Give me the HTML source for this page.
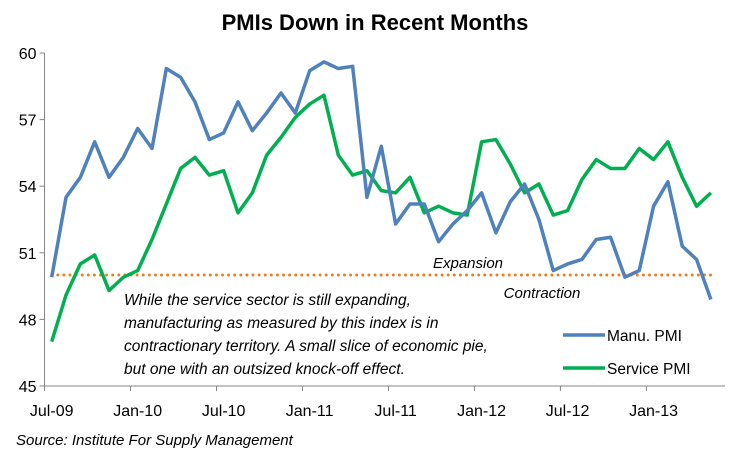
<!DOCTYPE html>
<html><head><meta charset="utf-8"><style>
body{margin:0;background:#fff;}
svg{display:block;font-family:"Liberation Sans",Calibri,sans-serif;}
</style></head><body>
<svg id="c" width="750" height="452" viewBox="0 0 750 452">
<text x="375" y="30" text-anchor="middle" font-size="22" font-weight="bold" fill="#000">PMIs Down in Recent Months</text>
<g id="axes"></g>
<g id="series"></g>
<text x="468" y="268" text-anchor="middle" font-size="15" font-style="italic">Expansion</text>
<text x="542" y="298" text-anchor="middle" font-size="15" font-style="italic">Contraction</text>
<g font-size="15.5" font-style="italic">
<text x="124" y="305">While the service sector is still expanding,</text>
<text x="124" y="328">manufacturing as measured by this index is in</text>
<text x="124" y="351">contractionary territory. A small slice of economic pie,</text>
<text x="124" y="374">but one with an outsized knock-off effect.</text>
</g>
<g>
<line x1="563" y1="335" x2="605" y2="335" stroke="#4f81bd" stroke-width="3.5"/>
<text x="607" y="341" font-size="15.5">Manu. PMI</text>
<line x1="563" y1="368" x2="605" y2="368" stroke="#00b050" stroke-width="3.5"/>
<text x="607" y="374" font-size="15.5">Service PMI</text>
</g>
<text x="16" y="445" font-size="15" font-style="italic">Source: Institute For Supply Management</text>
</svg>
<script>
const months = ["Jul-09","Aug-09","Sep-09","Oct-09","Nov-09","Dec-09","Jan-10","Feb-10","Mar-10","Apr-10","May-10","Jun-10","Jul-10","Aug-10","Sep-10","Oct-10","Nov-10","Dec-10","Jan-11","Feb-11","Mar-11","Apr-11","May-11","Jun-11","Jul-11","Aug-11","Sep-11","Oct-11","Nov-11","Dec-11","Jan-12","Feb-12","Mar-12","Apr-12","May-12","Jun-12","Jul-12","Aug-12","Sep-12","Oct-12","Nov-12","Dec-12","Jan-13","Feb-13","Mar-13","Apr-13","May-13"];
const manu = [49.9,53.5,54.4,56.0,54.4,55.3,56.6,55.7,59.3,58.9,57.8,56.1,56.4,57.8,56.5,57.3,58.2,57.3,59.2,59.6,59.3,59.4,53.5,55.8,52.3,53.2,53.2,51.5,52.3,52.9,53.7,51.9,53.3,54.1,52.5,50.2,50.5,50.7,51.6,51.7,49.9,50.2,53.1,54.2,51.3,50.7,48.9];
const service = [47.0,49.1,50.5,50.9,49.3,49.9,50.2,51.6,53.2,54.8,55.3,54.5,54.7,52.8,53.7,55.4,56.2,57.1,57.7,58.1,55.4,54.5,54.7,53.8,53.7,54.4,52.8,53.1,52.8,52.7,56.0,56.1,55.0,53.7,54.1,52.7,52.9,54.3,55.2,54.8,54.8,55.7,55.2,56.0,54.4,53.1,53.7];
const yTicks = [45,48,51,54,57,60];
const xLabels = ["Jul-09","Jan-10","Jul-10","Jan-11","Jul-11","Jan-12","Jul-12","Jan-13"];
const threshold = 50;

const NS="http://www.w3.org/2000/svg";
const X0=51.7, STEP=14.33, Y0=386, YPX=22.2, AXL=44.5, AXR=725;
function x(i){return X0+i*STEP;}
function y(v){return Y0-(v-45)*YPX;}
function mk(tag,attrs,parent){const e=document.createElementNS(NS,tag);for(const k in attrs)e.setAttribute(k,attrs[k]);parent.appendChild(e);return e;}
const axes=document.getElementById('axes'), ser=document.getElementById('series');

const ya=mk('line',{x1:AXL,y1:y(60),x2:AXL,y2:Y0,stroke:'#868686','stroke-width':1},axes);


yTicks.forEach(v=>{
  mk('line',{x1:AXL-5,y1:y(v),x2:AXL,y2:y(v),stroke:'#868686'},axes);
  const t=mk('text',{x:AXL-8,y:y(v)+6,'text-anchor':'end','font-size':16},axes);
  t.textContent=v;
  
  
});
const xa=mk('line',{x1:AXL,y1:Y0,x2:AXR,y2:Y0,stroke:'#868686','stroke-width':1},axes);


xLabels.forEach(l=>{
  const i=months.indexOf(l);
  mk('line',{x1:x(i)-STEP/2,y1:Y0,x2:x(i)-STEP/2,y2:Y0+5,stroke:'#868686'},axes);
  const t=mk('text',{x:x(i),y:Y0+30,'text-anchor':'middle','font-size':16},axes);
  t.textContent=l;
  
  
});
const th=mk('line',{x1:x(0),y1:y(threshold),x2:x(months.length-1),y2:y(threshold),stroke:'#f07c1e','stroke-width':3,'stroke-dasharray':'0 6.1','stroke-linecap':'round'},ser);


function line(vals,color,name){
  const p=mk('polyline',{points:vals.map((v,i)=>x(i)+','+y(v)).join(' '),fill:'none',stroke:color,'stroke-width':3.5,'stroke-linejoin':'round'},ser);
  
  
}
line(service,'#00b050','service-pmi-line');
line(manu,'#4f81bd','manu-pmi-line');
</script>
</body></html>
